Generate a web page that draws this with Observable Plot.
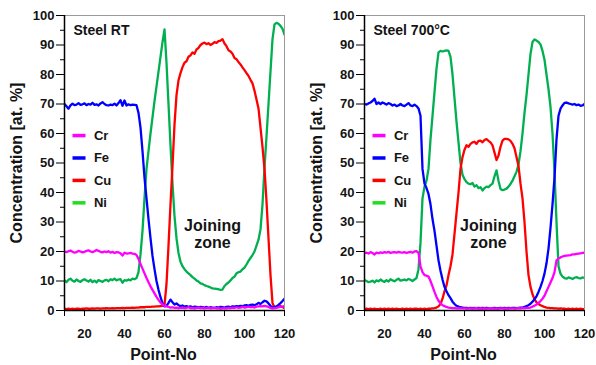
<!DOCTYPE html>
<html><head><meta charset="utf-8">
<script src="https://cdn.jsdelivr.net/npm/d3@7"></script>
<script src="https://cdn.jsdelivr.net/npm/@observablehq/plot@0.6"></script>
<style>
body{margin:0;background:#fff;}
#wrap{display:flex;width:596px;height:365px;overflow:hidden;}
#wrap svg{display:block;}
</style></head><body><div id="wrap"></div>
<script>
const points = [10,11,12,13,14,15,16,17,18,19,20,21,22,23,24,25,26,27,28,29,30,31,32,33,34,35,36,37,38,39,40,41,42,43,44,45,46,47,48,49,50,51,52,53,54,55,56,57,58,59,60,61,62,63,64,65,66,67,68,69,70,71,72,73,74,75,76,77,78,79,80,81,82,83,84,85,86,87,88,89,90,91,92,93,94,95,96,97,98,99,100,101,102,103,104,105,106,107,108,109,110,111,112,113,114,115,116,117,118,119,120];
const elements = ["Cr","Fe","Cu","Ni"];
const lineColors = ["#ff00ff","#0000ff","#ff0000","#00b050"];
const legendColors = ["#ff00ff","#0000ff","#ff0000","#22dd22"];
const yTicks = [0,10,20,30,40,50,60,70,80,90,100];
const yMinorTicks = [5,15,25,35,45,55,65,75,85,95];
const xTicks = [10,20,30,40,50,60,70,80,90,100,110,120];
const xTickLabels = [20,40,60,80,100,120];
const panelTitles = ["Steel RT","Steel 700°C"];
const zoneLabel = "Joining\nzone";
const xLabel = "Point-No";
const yLabel = "Concentration [at. %]";

// Steel RT
const cr_rt = [20.0,19.8,20.1,20.3,19.9,19.6,19.8,20.2,20.0,19.7,
 19.9,20.2,20.4,20.0,19.8,20.1,20.5,20.2,19.9,19.7,
 20.0,19.8,20.1,19.6,19.9,19.5,19.8,19.7,19.4,18.6,
 19.6,19.3,19.4,19.5,19.3,19.2,18.8,17.5,15.8,14.2,
 12.6,11.0,9.6,8.2,7.0,5.8,4.6,3.6,2.7,2.0,
 1.6,1.4,1.2,1.0,1.1,0.9,1.0,0.8,0.9,1.0,
 0.8,0.9,1.1,0.8,0.9,0.7,0.9,1.0,0.8,0.9,
 0.7,0.8,0.9,0.7,0.8,0.9,0.7,0.8,0.6,0.7,
 0.8,0.7,0.9,0.8,1.0,0.9,1.1,0.9,1.0,1.2,
 1.0,1.1,1.3,1.1,1.2,1.0,1.3,1.4,1.5,1.4,
 1.6,1.4,1.2,0.9,0.7,0.8,0.9,1.1,1.2,1.3,1.5];
const fe_rt = [70.0,69.2,68.4,69.5,70.1,69.6,69.8,70.3,69.7,69.9,
 70.2,69.6,70.0,69.8,70.4,69.7,69.9,69.5,70.2,70.6,
 70.0,69.6,69.5,69.8,69.6,70.1,69.5,70.3,71.3,69.4,
 71.2,69.5,69.9,69.6,69.8,69.7,69.6,67.0,62.0,54.0,
 45.0,38.0,31.0,24.5,18.5,14.0,10.0,7.0,4.5,2.5,
 1.4,1.6,2.6,3.7,2.8,2.0,2.4,1.8,1.5,1.7,
 1.3,1.5,1.2,1.4,1.1,1.3,1.2,1.0,1.2,1.1,
 1.0,1.2,0.9,1.1,1.0,0.9,1.1,1.0,1.2,1.1,
 1.0,1.2,1.3,1.1,1.4,1.3,1.5,1.4,1.6,1.5,
 1.7,1.8,1.6,1.9,2.0,1.8,2.1,2.6,2.2,2.8,
 3.3,3.1,2.4,1.6,1.0,1.2,1.4,1.9,2.5,3.2,4.0];
const cu_rt = [0.6,0.5,0.6,0.5,0.6,0.5,0.6,0.6,0.5,0.6,
 0.6,0.7,0.6,0.6,0.7,0.6,0.7,0.7,0.6,0.7,
 0.7,0.8,0.7,0.7,0.8,0.7,0.8,0.8,0.8,0.9,
 0.8,0.9,0.9,0.9,1.0,0.9,1.0,1.0,1.1,1.1,
 1.1,1.2,1.2,1.2,1.3,1.3,1.4,1.4,1.5,1.6,
 1.8,9.0,22.0,36.0,49.0,63.0,73.0,78.0,80.5,82.5,
 84.0,84.5,86.0,86.5,87.5,87.0,88.5,89.0,90.0,90.5,
 90.8,90.3,90.6,90.0,90.4,91.0,90.7,91.3,91.5,92.0,
 90.5,89.6,88.2,87.8,87.0,85.6,85.2,84.2,83.4,82.4,
 81.5,80.5,79.5,78.2,77.0,74.5,71.5,68.5,62.0,55.5,
 48.0,37.0,24.5,12.0,2.5,1.0,1.1,1.3,1.5,1.2,0.8];
const ni_rt = [10.2,9.6,10.4,10.8,10.1,9.8,10.5,10.0,9.7,10.3,
 10.6,10.2,9.8,10.4,9.6,10.1,9.5,10.3,10.0,9.7,
 10.2,10.4,9.9,10.6,10.3,10.8,10.2,10.5,10.6,9.4,
 10.3,10.1,10.5,10.2,10.8,10.6,11.0,13.0,19.0,27.0,
 38.0,48.0,54.0,60.0,65.5,71.0,76.0,81.0,86.0,91.0,
 95.3,84.0,70.0,56.0,43.0,32.0,24.5,19.5,16.5,15.0,
 14.0,13.2,12.6,12.0,11.3,10.8,10.2,9.8,9.2,9.0,
 8.6,8.3,8.1,7.8,7.5,7.4,7.3,7.2,7.0,7.1,
 8.3,9.0,9.5,10.2,11.0,11.5,12.6,13.0,13.2,14.0,
 14.5,15.6,16.8,17.8,18.8,20.0,22.0,24.0,27.5,36.0,
 48.5,59.0,70.0,81.0,92.0,97.0,97.5,97.2,96.5,95.5,93.5];

// Steel 700°C
const cr_700 = [19.4,19.6,19.3,19.8,19.5,19.0,19.6,19.4,19.7,19.5,
 19.8,19.6,19.9,19.5,19.7,19.8,19.6,19.9,19.7,19.6,
 19.8,19.5,19.7,19.9,19.6,20.0,20.1,19.5,15.0,13.0,
 12.0,11.8,11.5,10.0,8.2,6.3,4.6,3.3,2.4,1.8,
 1.5,1.2,1.0,0.9,0.8,0.8,0.7,0.8,0.7,0.7,
 0.7,0.6,0.7,0.7,0.6,0.7,0.8,0.6,0.7,0.6,
 0.7,0.6,0.7,0.8,0.7,0.6,0.7,0.6,0.7,0.7,
 0.6,0.7,0.6,0.7,0.7,0.6,0.7,0.8,0.7,0.8,
 0.8,0.9,0.9,1.0,1.3,1.6,2.0,2.6,3.2,4.0,
 5.0,6.5,8.0,9.5,11.0,13.0,17.0,17.6,18.0,18.3,
 18.5,18.6,18.7,18.8,19.0,19.0,19.2,19.3,19.4,19.5,19.6];
const fe_700 = [70.0,69.8,70.2,70.5,71.0,71.8,70.0,70.5,70.0,70.5,
 70.2,69.8,70.3,70.0,69.5,69.8,69.3,69.5,70.0,69.5,
 69.3,69.8,70.3,69.5,69.3,69.8,69.3,68.5,66.0,48.0,
 43.0,41.5,39.5,36.0,31.0,27.0,22.0,17.0,13.5,10.5,
 8.0,6.5,5.2,4.2,3.0,2.2,1.6,1.3,1.1,1.0,
 0.9,0.9,0.8,0.9,0.8,0.9,0.8,0.9,0.8,0.9,
 0.8,0.9,0.8,0.7,0.8,0.9,0.8,0.8,0.9,0.8,
 0.9,0.8,0.9,0.8,0.9,0.9,0.8,0.9,1.0,1.0,
 1.2,1.5,1.8,2.3,3.0,3.8,4.8,6.3,8.0,10.0,
 12.5,16.0,21.0,28.0,36.0,45.0,58.0,66.0,68.4,69.5,
 70.4,70.5,70.2,70.0,69.8,70.0,69.6,69.8,69.4,69.5,70.0];
const cu_700 = [0.5,0.6,0.5,0.6,0.5,0.6,0.5,0.5,0.6,0.5,
 0.6,0.5,0.6,0.5,0.6,0.5,0.6,0.5,0.5,0.6,
 0.5,0.6,0.5,0.6,0.5,0.6,0.6,0.5,0.6,0.5,
 0.6,0.5,0.6,0.6,0.7,0.8,1.0,1.4,2.2,4.0,
 6.5,8.5,12.0,15.0,19.0,26.0,33.0,40.0,48.0,52.0,
 54.5,56.0,55.5,56.5,57.0,57.2,56.5,57.5,57.6,57.0,
 57.8,58.1,57.5,57.0,56.0,53.5,51.0,52.5,55.5,57.6,
 58.2,58.2,58.0,57.5,56.5,55.0,52.0,49.0,43.0,38.0,
 30.0,20.0,12.0,8.0,5.5,3.8,2.8,2.2,1.8,1.5,
 1.2,1.0,0.9,0.8,0.8,0.7,0.7,0.6,0.7,0.6,
 0.6,0.5,0.6,0.5,0.6,0.5,0.6,0.5,0.6,0.5,0.5];
const ni_700 = [10.3,10.0,9.6,9.8,10.1,9.5,10.2,9.9,10.5,10.0,
 9.7,10.3,9.8,10.6,10.2,9.9,10.4,10.8,10.1,10.3,
 10.5,10.2,10.7,10.4,10.0,10.5,11.0,14.0,23.0,38.0,
 42.0,44.0,48.0,58.0,66.0,74.0,82.0,87.5,88.0,87.8,
 88.0,88.2,88.0,86.0,80.0,72.0,64.0,57.0,50.0,46.0,
 44.5,43.5,43.0,42.8,43.2,42.0,42.5,41.5,41.8,40.7,
 41.5,42.0,41.8,42.5,43.0,45.5,47.5,44.0,41.2,40.8,
 41.0,41.3,42.0,42.9,44.0,45.5,47.0,49.5,54.0,60.0,
 67.0,73.0,80.0,87.0,91.0,91.9,91.5,91.0,90.2,88.0,
 85.0,80.0,75.0,69.0,60.0,47.0,30.0,15.0,12.5,11.5,
 11.0,10.8,11.2,11.0,10.7,11.1,11.3,11.0,10.9,11.2,11.0];

const font = '"Liberation Sans", Arial, sans-serif';
const ink = "#141414";

function panel(title, series, width, marginRight, zoneX) {
  const marks = [];
  marks.push(Plot.frame({stroke: "#9a9a9a", strokeWidth: 1}));
  // draw order: Ni, Cu, Fe, Cr (Cr on top)
  [3, 2, 1, 0].forEach(k => {
    const vals = series[k];
    const rows = points.map((p, i) => ({p, v: vals[i]}));
    marks.push(Plot.line(rows, {x: "p", y: "v", stroke: lineColors[k], strokeWidth: 2.3, clip: true}));
  });
  // axes
  marks.push(Plot.axisY({ticks: yTicks, tickSize: 8, tickPadding: 2, label: null, fontSize: 13, fontWeight: "bold", fill: ink, stroke: "#000"}));
  marks.push(Plot.axisY({ticks: yMinorTicks, tickSize: 4, tickFormat: () => "", label: null, stroke: "#000"}));
  marks.push(Plot.axisX({ticks: xTicks, tickSize: 6, tickPadding: 12, label: null, fontSize: 13, fontWeight: "bold", fill: ink, stroke: "#000",
    tickFormat: d => xTickLabels.includes(d) ? String(d) : ""}));
  marks.push(Plot.ruleX([10], {stroke: "#000", strokeWidth: 1.5}));
  marks.push(Plot.ruleY([0], {stroke: "#000", strokeWidth: 1.5}));
  // legend
  elements.forEach((name, i) => {
    const yv = 59.3 - 7.6 * i;
    marks.push(Plot.link([name], {x1: 14, x2: 20.5, y1: yv, y2: yv, stroke: legendColors[i], strokeWidth: 3.5}));
    marks.push(Plot.text([name], {x: 24.7, y: yv, text: d => d, textAnchor: "start", fontSize: 13, fontWeight: "bold", fill: ink}));
  });
  // title
  marks.push(Plot.text([title], {frameAnchor: "top-left", dx: 9, dy: 10, textAnchor: "start", lineAnchor: "top", fontSize: 14, fontWeight: "bold", fill: ink}));
  // zone label
  marks.push(Plot.text([zoneLabel], {x: zoneX, y: 31, text: d => d, lineAnchor: "top", lineHeight: 1.06, fontSize: 16, fontWeight: "bold", fill: ink}));
  // axis labels
  marks.push(Plot.text([yLabel], {frameAnchor: "left", dx: -48, rotate: -90, textAnchor: "middle", lineAnchor: "middle", fontSize: 16, fontWeight: "bold", fill: ink}));
  marks.push(Plot.text([xLabel], {frameAnchor: "bottom", dx: -11, dy: 38, textAnchor: "middle", lineAnchor: "top", fontSize: 16, fontWeight: "bold", fill: ink}));

  return Plot.plot({
    width, height: 365,
    marginLeft: 64, marginRight, marginTop: 15, marginBottom: 55,
    x: {domain: [10, 120]},
    y: {domain: [0, 100]},
    style: {fontFamily: font, background: "#fff", overflow: "visible"},
    marks
  });
}

const wrap = document.getElementById("wrap");
wrap.appendChild(panel(panelTitles[0], [cr_rt, fe_rt, cu_rt, ni_rt], 300, 16, 84));
wrap.appendChild(panel(panelTitles[1], [cr_700, fe_700, cu_700, ni_700], 296, 12, 72));
</script></body></html>
